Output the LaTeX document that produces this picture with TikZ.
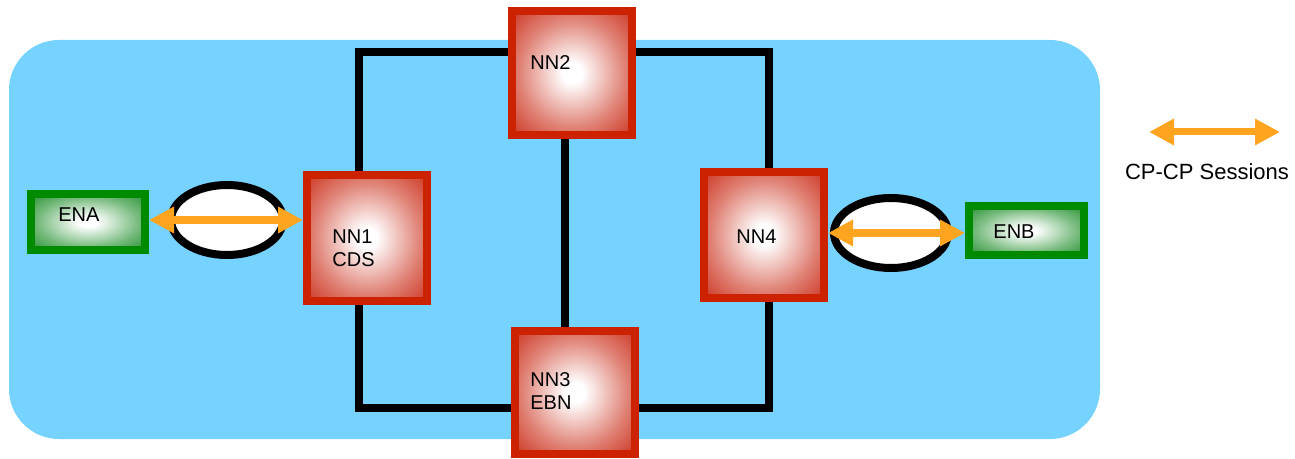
\documentclass[tikz,border=0pt]{standalone}
\usepackage{fontspec}
\setmainfont{Liberation Sans}
\usetikzlibrary{arrows.meta, shapes.geometric}
\definecolor{mSky}{HTML}{76D2FF}
\definecolor{mRedEdge}{HTML}{CC2200}
\definecolor{mRedGlow}{HTML}{CF3F2C}
\definecolor{mGreenEdge}{HTML}{008A00}
\definecolor{mGreenGlow}{HTML}{2E9638}
\definecolor{mOrange}{HTML}{FFA41E}
\pgfdeclareradialshading{nnglow}{\pgfpoint{0bp}{0bp}}{color(0bp)=(white); color(4bp)=(white);
  color(22bp)=(mRedGlow!65!white); color(34bp)=(mRedGlow); color(50bp)=(mRedGlow)}
\pgfdeclareradialshading{englow}{\pgfpoint{0bp}{0bp}}{color(0bp)=(white); color(4bp)=(white);
  color(22bp)=(mGreenGlow!65!white); color(34bp)=(mGreenGlow); color(50bp)=(mGreenGlow)}

\begin{document}
\begin{tikzpicture}[x=0.5pt, y=-0.5pt,
      >={Triangle[length=12.5pt, width=12.5pt]},
      nn/.style={rectangle, draw=mRedEdge, line width=4pt, shading=nnglow,
                 minimum width=60pt, minimum height=62pt, inner sep=0pt},
      en/.style={rectangle, draw=mGreenEdge, line width=4pt, shading=englow,
                 minimum width=57pt, inner sep=0pt},
      ring/.style={ellipse, draw=black, line width=4pt, fill=white,
                   minimum width=56pt, minimum height=35pt, inner sep=0pt},
      wire/.style={line width=3.75pt, line join=miter},
      sess/.style={<->, draw=mOrange, line width=4pt},
      lbl/.style={anchor=west, inner sep=0pt, align=left,
                  font=\fontsize{10}{11.5}\selectfont}]
    \useasboundingbox (0,0) rectangle (1295,459);
    \fill[mSky, rounded corners=25pt] (9,40) rectangle (1100,439);

    % network nodes
    \node[nn, minimum height=63pt] (nn1) at (367,238) {};
    \node[nn] (nn2) at (572,73) {};
    \node[nn, minimum height=61.5pt] (nn3) at (575,392.5) {};
    \node[nn, minimum height=63pt] (nn4) at (764,235) {};
    \node[en, minimum height=28pt] (ena) at (88,222) {};
    \node[en, minimum width=57.5pt, minimum height=24.5pt] (enb) at (1026.5,230.5) {};

    \node[lbl] (nn1txt) at (332,248.5) {NN1\\CDS};
    \node[lbl] (nn2txt) at (530,63) {NN2};
    \node[lbl] (nn3txt) at (530,391.5) {NN3\\EBN};
    \node[lbl] (nn4txt) at (736,237) {NN4};
    \node[lbl] (enatxt) at (58,215) {ENA};
    \node[lbl] (enbtxt) at (993,232) {ENB};

    % links
    \coordinate (tl) at (359,52);
    \coordinate (tr) at (769,52);
    \coordinate (bl) at (359,408);
    \coordinate (br) at (769,408);
    \coordinate (mid) at (565,240);
    \draw[wire] (tl |- nn1.north) -- (tl) -- (nn2.west |- tl);
    \draw[wire] (nn2.east |- tr) -- (tr) -- (tr |- nn4.north);
    \draw[wire] (tl |- nn1.south) -- (bl) -- (nn3.west |- bl);
    \draw[wire] (nn3.east |- br) -- (br) -- (br |- nn4.south);
    \draw[wire] (nn2.south -| mid) -- (nn3.north -| mid);

    % sessions
    \node[ring] (ring1) at (227,220) {};
    \node[ring, minimum width=57pt] (ring2) at (891,233) {};
    \draw[sess] (ena.east |- ring1.center) -- (nn1.west |- ring1.center);
    \draw[sess] (nn4.east |- ring2.center) -- (enb.west |- ring2.center);

    % legend
    \coordinate (leg1) at (1149,132);
    \coordinate (leg2) at (1280,132);
    \draw[sess, line width=3.5pt] (leg1) -- (leg2);
    \node[font=\fontsize{11}{13}\selectfont] (legtxt) at (1207,172) {CP-CP Sessions};
  \end{tikzpicture}
\end{document}
